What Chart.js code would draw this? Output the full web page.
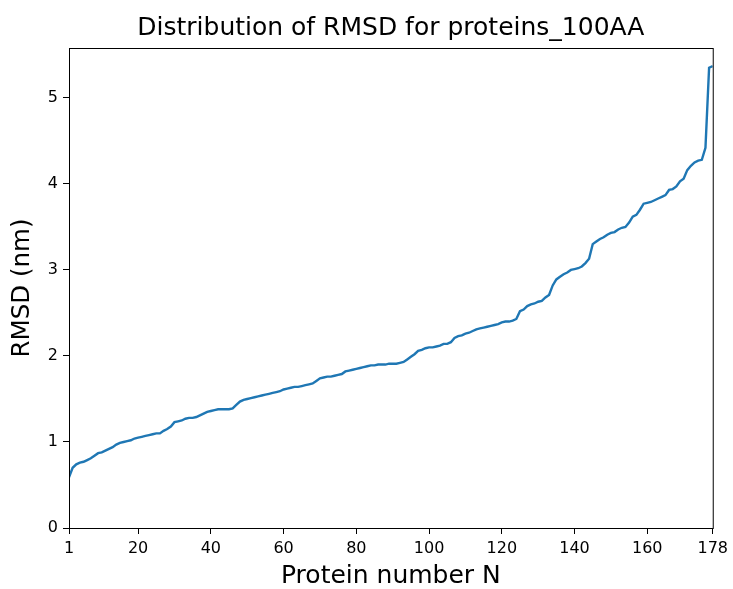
<!DOCTYPE html>
<html>
<head>
<meta charset="utf-8">
<script src="https://cdn.jsdelivr.net/npm/chart.js@4"></script>
<style>
  html, body { margin: 0; padding: 0; background: #fff; }
  #wrap { width: 733px; height: 589px; }
</style>
</head>
<body>
<div id="wrap"><canvas id="rmsd-chart" width="733" height="589"></canvas></div>
<script>
// sorted RMSD (nm) for each protein
const rmsd = [
    0.59, 0.70, 0.74, 0.76, 0.77, 0.79, 0.81, 0.84, 0.87, 0.88,
    0.90, 0.92, 0.94, 0.97, 0.99, 1.00, 1.01, 1.02, 1.04, 1.05,
    1.06, 1.07, 1.08, 1.09, 1.10, 1.10, 1.13, 1.15, 1.18, 1.23,
    1.24, 1.25, 1.27, 1.28, 1.28, 1.29, 1.31, 1.33, 1.35, 1.36,
    1.37, 1.38, 1.38, 1.38, 1.38, 1.39, 1.43, 1.47, 1.49, 1.50,
    1.51, 1.52, 1.53, 1.54, 1.55, 1.56, 1.57, 1.58, 1.59, 1.61,
    1.62, 1.63, 1.64, 1.64, 1.65, 1.66, 1.67, 1.68, 1.71, 1.74,
    1.75, 1.76, 1.76, 1.77, 1.78, 1.79, 1.82, 1.83, 1.84, 1.85,
    1.86, 1.87, 1.88, 1.89, 1.89, 1.90, 1.90, 1.90, 1.91, 1.91,
    1.91, 1.92, 1.93, 1.96, 1.99, 2.02, 2.06, 2.07, 2.09, 2.10,
    2.10, 2.11, 2.12, 2.14, 2.14, 2.16, 2.21, 2.23, 2.24, 2.26,
    2.27, 2.29, 2.31, 2.32, 2.33, 2.34, 2.35, 2.36, 2.37, 2.39,
    2.40, 2.40, 2.41, 2.43, 2.52, 2.54, 2.58, 2.60, 2.61, 2.63,
    2.64, 2.68, 2.71, 2.82, 2.89, 2.92, 2.95, 2.97, 3.00, 3.01,
    3.02, 3.04, 3.08, 3.13, 3.30, 3.33, 3.36, 3.38, 3.41, 3.43,
    3.44, 3.47, 3.49, 3.50, 3.55, 3.62, 3.64, 3.70, 3.77, 3.78,
    3.79, 3.81, 3.83, 3.85, 3.87, 3.93, 3.94, 3.97, 4.03, 4.06,
    4.16, 4.21, 4.25, 4.27, 4.28, 4.42, 5.35, 5.37
];
const proteinNo = rmsd.map((v, i) => i + 1);

const xTicks = [1, 20, 40, 60, 80, 100, 120, 140, 160, 178];
const yTicks = [0, 1, 2, 3, 4, 5];

const TITLE = 'Distribution of RMSD for proteins_100AA';
const FONT = "'DejaVu Sans', sans-serif";

// matplotlib style box around the plot, title centred over the axes
const frame = {
    id: 'frame',
    afterDatasetsDraw(chart) {
        const a = chart.chartArea;
        const ctx = chart.ctx;
        ctx.save();
        ctx.strokeStyle = '#000';
        ctx.lineWidth = 1;
        ctx.strokeRect(a.left + 0.5, a.top + 0.5, a.right - a.left, a.bottom - a.top);
        ctx.fillStyle = '#000';
        ctx.font = "25px " + FONT;
        ctx.textAlign = 'center';
        ctx.textBaseline = 'middle';
        ctx.fillText(TITLE, (a.left + a.right) / 2, 28);
        ctx.restore();
    }
};

new Chart(document.getElementById('rmsd-chart'), {
    type: 'line',
    data: {
        labels: proteinNo,
        datasets: [{
            data: proteinNo.map((n, i) => ({x: n, y: rmsd[i]})),
            borderColor: '#1f77b4',
            borderWidth: 2.4,
            pointRadius: 0,
            tension: 0,
            fill: false
        }]
    },
    options: {
        responsive: false,
        animation: false,
        layout: { padding: { left: 0, right: 20, top: 48, bottom: 0 } },
        plugins: {
            legend: { display: false },
            tooltip: { enabled: false },
            title: { display: false }
        },
        scales: {
            x: {
                type: 'linear',
                min: 1,
                max: 178,
                afterBuildTicks: s => { s.ticks = xTicks.map(v => ({value: v})); },
                afterFit: s => { s.height = 61; },
                grid: { drawOnChartArea: false, drawTicks: true, tickLength: 6, color: '#000' },
                border: { color: '#000' },
                ticks: {
                    color: '#000',
                    font: { family: FONT, size: 16 },
                    padding: 5,
                    maxRotation: 0,
                    autoSkip: false
                },
                title: {
                    display: true,
                    text: 'Protein number N',
                    color: '#000',
                    font: { family: FONT, size: 25, lineHeight: 1.0 },
                    padding: { top: 0, bottom: 0 }
                }
            },
            y: {
                min: 0,
                max: 5.58,
                afterBuildTicks: s => { s.ticks = yTicks.map(v => ({value: v})); },
                afterFit: s => { s.width = 69; },
                grid: { drawOnChartArea: false, drawTicks: true, tickLength: 6, color: '#000' },
                border: { color: '#000' },
                ticks: {
                    color: '#000',
                    font: { family: FONT, size: 16 },
                    padding: 5
                },
                title: {
                    display: true,
                    text: 'RMSD (nm)',
                    color: '#000',
                    font: { family: FONT, size: 24.5, lineHeight: 1.0 },
                    padding: { top: 10, bottom: 0 }
                }
            }
        }
    },
    plugins: [frame]
});
</script>
</body>
</html>
